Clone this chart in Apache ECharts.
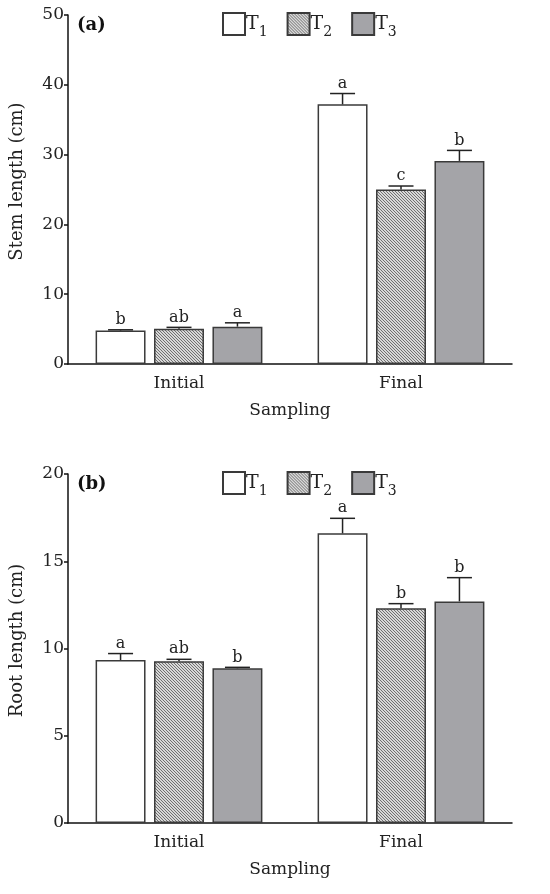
<!DOCTYPE html>
<html>
<head>
<meta charset="utf-8">
<script src="https://cdn.jsdelivr.net/npm/echarts@6/dist/echarts.min.js"></script>
<style>html,body{margin:0;padding:0;background:#fff}#c{width:550px;height:894px}</style>
</head>
<body>
<div id="c"></div>
<script>
const categories = ['Initial', 'Final'];
const seriesNames = ['T1', 'T2', 'T3'];
const stemTicks = [0, 10, 20, 30, 40, 50];
const rootTicks = [0, 5, 10, 15, 20];

const stemT1 = [4.8, 37.2];
const stemT2 = [5.05, 25.0];
const stemT3 = [5.35, 29.1];
const stemErrT1 = [0.1, 1.55];
const stemErrT2 = [0.2, 0.5];
const stemErrT3 = [0.55, 1.5];
const stemLetT1 = ['b', 'a'];
const stemLetT2 = ['ab', 'c'];
const stemLetT3 = ['a', 'b'];

const rootT1 = [9.34, 16.6];
const rootT2 = [9.27, 12.3];
const rootT3 = [8.87, 12.7];
const rootErrT1 = [0.37, 0.86];
const rootErrT2 = [0.11, 0.27];
const rootErrT3 = [0.05, 1.36];
const rootLetT1 = ['a', 'a'];
const rootLetT2 = ['ab', 'b'];
const rootLetT3 = ['b', 'b'];

const FONT = 'DejaVu Serif';
const BAR_W = 0.225, BAR_GAP = 0.17;

// hatch pattern
const pc = document.createElement('canvas');
pc.width = 3; pc.height = 3;
const pctx = pc.getContext('2d');
pctx.fillStyle = '#d8d8d8'; pctx.fillRect(0, 0, 3, 3);
pctx.fillStyle = '#707070';
for (let i = 0; i < 3; i++) pctx.fillRect(i, i, 1, 1);
const hatch = { image: pc, repeat: 'repeat' };

const fills = ['#ffffff', hatch, '#a4a4a8'];

function bar(idx, s, data) {
  return {
    name: seriesNames[s], type: 'bar', xAxisIndex: idx, yAxisIndex: idx,
    data: data, barWidth: (BAR_W * 100) + '%', barGap: (BAR_GAP * 100) + '%',
    itemStyle: { color: fills[s], borderColor: '#3a3a3a', borderWidth: 1.5 },
    emphasis: { disabled: true }, z: 2
  };
}
function err(idx, s, means, errs, letters) {
  return {
    type: 'custom', xAxisIndex: idx, yAxisIndex: idx, z: 3,
    data: means.map((m, i) => [i, m, m + errs[i]]),
    encode: { x: 0, y: [1, 2] },
    renderItem: function (params, api) {
      const cat = api.value(0);
      const base = api.coord([cat, api.value(1)]);
      const top = api.coord([cat, api.value(2)]);
      const band = api.size([1, 0])[0];
      const bw = band * BAR_W, gap = bw * BAR_GAP;
      const x = base[0] + (s - 1) * (bw + gap);
      const st = { stroke: '#222', lineWidth: 1.5 };
      return {
        type: 'group', children: [
          { type: 'line', shape: { x1: x, y1: base[1], x2: x, y2: top[1] }, style: st },
          { type: 'line', shape: { x1: x - 12.5, y1: top[1], x2: x + 12.5, y2: top[1] }, style: st },
          { type: 'text', style: { text: letters[params.dataIndex], x: x, y: top[1] - 2,
            align: 'center', verticalAlign: 'bottom', fontFamily: FONT, fontSize: 16, fill: '#222' } }
        ]
      };
    }
  };
}

const axisLine = { lineStyle: { color: '#111', width: 1.5 } };
function xAx(idx) {
  return {
    type: 'category', gridIndex: idx, data: categories,
    axisLine: axisLine, axisTick: { alignWithLabel: true, length: 5, lineStyle: { color: '#111', width: 1.5 } },
    axisLabel: { fontFamily: FONT, fontSize: 17, color: '#222', margin: 11 },
    name: 'Sampling', nameLocation: 'middle', nameGap: 38,
    nameTextStyle: { fontFamily: FONT, fontSize: 17, color: '#222' }
  };
}
function yAx(idx, ticks, name) {
  return {
    type: 'value', gridIndex: idx, min: ticks[0], max: ticks[ticks.length - 1],
    interval: ticks[1] - ticks[0], splitLine: { show: false },
    axisLine: { show: true, lineStyle: { color: '#111', width: 1.5 } },
    axisTick: { show: true, length: 4, lineStyle: { color: '#111', width: 1.5 } },
    axisLabel: { fontFamily: FONT, fontSize: 17, color: '#222', margin: 4 },
    name: name, nameLocation: 'middle', nameGap: 42,
    nameTextStyle: { fontFamily: FONT, fontSize: 18, color: '#222', padding: [0, 0, 0, 16] }
  };
}
function legend(top) {
  return {
    data: seriesNames, top: top, left: 217, itemWidth: 22, itemHeight: 22, itemGap: 19,
    icon: 'rect', selectedMode: false,
    formatter: n => '{t|T}{s|' + n.slice(1) + '}',
    textStyle: { padding: [0, 0, 0, -4], rich: {
      t: { fontFamily: FONT, fontSize: 19, color: '#222', verticalAlign: 'bottom' },
      s: { fontFamily: FONT, fontSize: 14, color: '#222', verticalAlign: 'bottom', padding: [0, 0, -6, 0] }
    } }
  };
}

const chart = echarts.init(document.getElementById('c'));
chart.setOption({
  animation: false,
  backgroundColor: '#fff',
  title: [
    { text: '(a)', left: 72, top: 11, textStyle: { fontFamily: FONT, fontSize: 18, fontWeight: 'bold', color: '#111' } },
    { text: '(b)', left: 72, top: 470, textStyle: { fontFamily: FONT, fontSize: 18, fontWeight: 'bold', color: '#111' } }
  ],
  legend: [legend(7), legend(466)],
  grid: [
    { left: 68, right: 38, top: 15, height: 349 },
    { left: 68, right: 38, top: 474, height: 349 }
  ],
  xAxis: [xAx(0), xAx(1)],
  yAxis: [yAx(0, stemTicks, 'Stem length (cm)'), yAx(1, rootTicks, 'Root length (cm)')],
  series: [
    bar(0, 0, stemT1), bar(0, 1, stemT2), bar(0, 2, stemT3),
    err(0, 0, stemT1, stemErrT1, stemLetT1), err(0, 1, stemT2, stemErrT2, stemLetT2), err(0, 2, stemT3, stemErrT3, stemLetT3),
    bar(1, 0, rootT1), bar(1, 1, rootT2), bar(1, 2, rootT3),
    err(1, 0, rootT1, rootErrT1, rootLetT1), err(1, 1, rootT2, rootErrT2, rootLetT2), err(1, 2, rootT3, rootErrT3, rootLetT3)
  ]
});
</script>
</body>
</html>
